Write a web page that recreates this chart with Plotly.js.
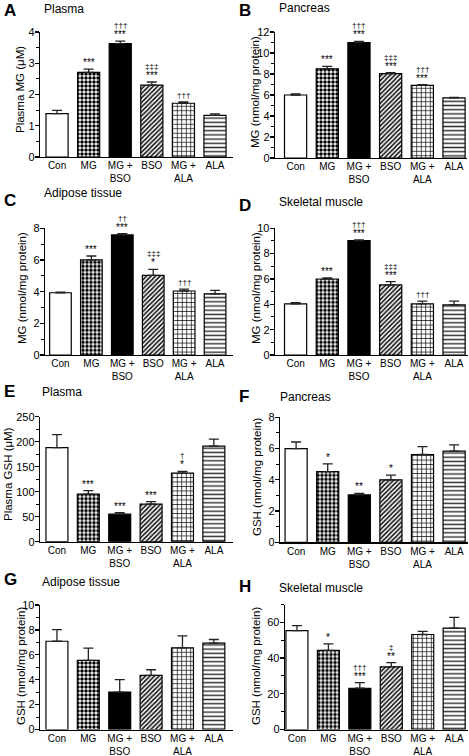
<!DOCTYPE html>
<html>
<head>
<meta charset="utf-8">
<script src="https://cdn.plot.ly/plotly-3.0.1.min.js"></script>
<style>html,body{margin:0;padding:0;background:#fff;}#chart{width:469px;height:756px;}</style>
</head>
<body>
<div id="chart"></div>
<script>
// ---- data ----
const categories = ["Con", "MG", "MG +<br>BSO", "BSO", "MG +<br>ALA", "ALA"];

const mgPlasma      = [1.39, 2.71, 3.63, 2.30, 1.72, 1.33];
const mgPlasmaErr   = [0.10, 0.10, 0.08, 0.10, 0.04, 0.05];
const mgPancreas    = [6.0, 8.5, 11.0, 8.03, 6.92, 5.72];
const mgPancreasErr = [0.10, 0.22, 0.10, 0.10, 0.06, 0.06];
const mgAdipose     = [3.93, 6.0, 7.58, 5.03, 4.04, 3.86];
const mgAdiposeErr  = [0.04, 0.25, 0.09, 0.38, 0.12, 0.22];
const mgMuscle      = [4.04, 6.0, 9.03, 5.53, 4.03, 3.95];
const mgMuscleErr   = [0.10, 0.08, 0.05, 0.26, 0.22, 0.30];

const gshPlasma      = [188, 95, 55, 75, 137, 191];
const gshPlasmaErr   = [26, 7, 3, 5, 3.5, 14];
const gshPancreas    = [6.0, 4.52, 3.03, 4.0, 5.62, 5.83];
const gshPancreasErr = [0.42, 0.50, 0.10, 0.30, 0.50, 0.40];
const gshAdipose     = [7.09, 5.55, 3.01, 4.35, 6.56, 6.93];
const gshAdiposeErr  = [0.93, 0.98, 1.0, 0.45, 0.96, 0.30];
const gshMuscle      = [55.4, 44.3, 23.1, 35.1, 53.2, 56.8];
const gshMuscleErr   = [2.8, 3.7, 3.1, 2.4, 1.8, 6.0];

const starsA = ["", "***", "***", "***", "", ""];
const dagA   = ["", "", "†††", "‡‡‡", "†††", ""];
const starsB = ["", "***", "***", "***", "***", ""];
const dagB   = ["", "", "†††", "‡‡‡", "†††", ""];
const starsC = ["", "***", "***", "*", "", ""];
const dagC   = ["", "", "††", "‡‡‡", "†††", ""];
const starsD = ["", "***", "***", "***", "", ""];
const dagD   = ["", "", "†††", "‡‡‡", "†††", ""];
const starsE = ["", "***", "***", "***", "*", ""];
const dagE   = ["", "", "", "", "†", ""];
const starsF = ["", "*", "**", "*", "", ""];
const dagF   = ["", "", "", "", "", ""];
const starsG = ["", "", "", "", "", ""];
const dagG   = ["", "", "", "", "", ""];
const starsH = ["", "*", "***", "**", "", ""];
const dagH   = ["", "", "†††", "‡", "", ""];

const panelLetters = ["A", "B", "C", "D", "E", "F", "G", "H"];
const panelTitles = ["Plasma", "Pancreas", "Adipose tissue", "Skeletal muscle",
                     "Plasma", "Pancreas", "Adipose tissue", "Skeletal muscle"];
const yTitles = ["Plasma MG (μM)", "MG (nmol/mg protein)", "MG (nmol/mg protein)", "MG (nmol/mg protein)",
                 "Plasma GSH (μM)", "GSH (nmol/mg protein)", "GSH (nmol/mg protein)", "GSH (nmol/mg protein)"];

// ---- layout geometry (pixels) ----
const W = 469, H = 756;
const panels = [
  {m: mgPlasma,    e: mgPlasmaErr,    s: starsA, d: dagA, x0: 40,  x1: 233, xr: [-0.54, 5.57], yt: 32,    yb: 157,   yr: [0, 4],   dt: 1,  mdt: 0.5, lx: 2,   ly: 11,  tx: 42,  ty: 9,   ytx: 20,  yty: 90},
  {m: mgPancreas,  e: mgPancreasErr,  s: starsB, d: dagB, x0: 275, x1: 467, xr: [-0.65, 5.41], yt: 32,    yb: 158,   yr: [0, 12],  dt: 2,  mdt: 1,   lx: 237, ly: 11,  tx: 277, ty: 8,   ytx: 255, yty: 92},
  {m: mgAdipose,   e: mgAdiposeErr,   s: starsC, d: dagC, x0: 45,  x1: 233, xr: [-0.5, 5.58],  yt: 228.3, yb: 355,   yr: [0, 8],   dt: 2,  mdt: 1,   lx: 2,   ly: 200, tx: 42,  ty: 193, ytx: 22,  yty: 288},
  {m: mgMuscle,    e: mgMuscleErr,    s: starsD, d: dagD, x0: 275, x1: 468, xr: [-0.65, 5.44], yt: 228.3, yb: 355,   yr: [0, 10],  dt: 2,  mdt: 1,   lx: 237, ly: 205, tx: 277, ty: 202, ytx: 256, yty: 288},
  {m: gshPlasma,   e: gshPlasmaErr,   s: starsE, d: dagE, x0: 40,  x1: 233, xr: [-0.54, 5.61], yt: 416.7, yb: 541.7, yr: [0, 250], dt: 50, mdt: 25,  lx: 2,   ly: 391, tx: 40,  ty: 392, ytx: 8,   yty: 474},
  {m: gshPancreas, e: gshPancreasErr, s: starsF, d: dagF, x0: 280, x1: 468, xr: [-0.51, 5.44], yt: 417.3, yb: 542.3, yr: [0, 8],   dt: 2,  mdt: 1,   lx: 237, ly: 396, tx: 278, ty: 397, ytx: 257, yty: 477},
  {m: gshAdipose,  e: gshAdiposeErr,  s: starsG, d: dagG, x0: 40,  x1: 233, xr: [-0.54, 5.61], yt: 605,   yb: 729.5, yr: [0, 10],  dt: 2,  mdt: 1,   lx: 2,   ly: 579, tx: 40,  ty: 582, ytx: 21,  yty: 666},
  {m: gshMuscle,   e: gshMuscleErr,   s: starsH, d: dagH, x0: 285, x1: 468, xr: [-0.38, 5.44], yt: 604.5, yb: 729.5, yr: [0, 70],  dt: 20, mdt: 10,  lx: 237, ly: 586, tx: 277, ty: 588, ytx: 256, yty: 666}
];

// fillmode "replace": marker colour becomes the pattern foreground
const barColors = ["white", "black", "black", "#111", "black", "#333"];
const patShapes = ["", ".", "", "/", "+", "-"];
const patSizes  = [4, 4, 4, 3.2, 4.5, 4.2];
const patSolid  = [0.3, 0.6, 0.3, 0.5, 0.28, 0.35];

const FONT = "Liberation Sans, Arial, Helvetica, sans-serif";
const traces = [];
const layout = {
  width: W, height: H,
  margin: {l: 0, r: 0, t: 0, b: 0},
  paper_bgcolor: "white", plot_bgcolor: "white",
  showlegend: false,
  font: {family: FONT, color: "black", size: 11},
  annotations: []
};

panels.forEach((p, i) => {
  const n = i === 0 ? "" : String(i + 1);
  const xa = "x" + n, ya = "y" + n;
  traces.push({
    type: "bar",
    x: categories,
    y: p.m,
    xaxis: xa, yaxis: ya,
    width: 0.7,
    marker: {
      color: barColors,
      line: {color: "black", width: 1.2},
      pattern: {shape: patShapes, size: patSizes, solidity: patSolid, fillmode: "replace"}
    },
    error_y: {type: "data", symmetric: false, array: p.e, arrayminus: p.e.map(() => 0), color: "#222", thickness: 1.3, width: 5},
    hoverinfo: "skip"
  });
  layout["xaxis" + n] = {
    domain: [p.x0 / W, p.x1 / W],
    anchor: ya,
    range: p.xr,
    type: "category",
    showgrid: false, zeroline: false,
    showline: true, linecolor: "black", linewidth: 1.3,
    ticks: "", tickfont: {size: 10, family: FONT, color: "black"},
    ticklabelstandoff: -1,
    fixedrange: true
  };
  layout["yaxis" + n] = {
    domain: [1 - p.yb / H, 1 - p.yt / H],
    anchor: xa,
    range: p.yr,
    tick0: 0, dtick: p.dt,
    showgrid: false, zeroline: false,
    showline: true, linecolor: "black", linewidth: 1.3,
    ticks: "outside", ticklen: 4, tickwidth: 1.2, tickcolor: "black",
    minor: {dtick: p.mdt, ticks: "outside", ticklen: 2.5, tickwidth: 1, tickcolor: "black"},
    tickfont: {size: 11, family: FONT, color: "black"},
    ticklabelstandoff: -2,
    fixedrange: true
  };
  // panel letter
  layout.annotations.push({xref: "paper", yref: "paper", x: p.lx / W, y: 1 - p.ly / H, xanchor: "left", yanchor: "middle",
    text: "<b>" + panelLetters[i] + "</b>", showarrow: false, font: {size: 17, family: FONT, color: "black"}});
  // panel title
  layout.annotations.push({xref: "paper", yref: "paper", x: p.tx / W, y: 1 - p.ty / H, xanchor: "left", yanchor: "middle",
    text: panelTitles[i], showarrow: false, font: {size: 12, family: FONT, color: "black"}});
  // y title
  layout.annotations.push({xref: "paper", yref: "paper", x: p.ytx / W, y: 1 - p.yty / H, xanchor: "center", yanchor: "middle",
    text: yTitles[i], textangle: -90, showarrow: false, font: {size: 11.5, family: FONT, color: "black"}});
  // significance marks
  categories.forEach((c, k) => {
    const top = p.m[k] + p.e[k];
    if (p.s[k]) {
      layout.annotations.push({xref: xa, yref: ya, x: c, y: top, xanchor: "center", yanchor: "bottom",
        yshift: -1, text: p.s[k], showarrow: false, font: {size: 10, family: FONT, color: "black"}});
    }
    if (p.d[k]) {
      layout.annotations.push({xref: xa, yref: ya, x: c, y: top, xanchor: "center", yanchor: "bottom",
        yshift: p.s[k] ? 9 : 0, text: p.d[k], showarrow: false, font: {size: 8, family: FONT, color: "black"}});
    }
  });
});

Plotly.newPlot("chart", traces, layout, {displayModeBar: false, staticPlot: true});
</script>
</body>
</html>
